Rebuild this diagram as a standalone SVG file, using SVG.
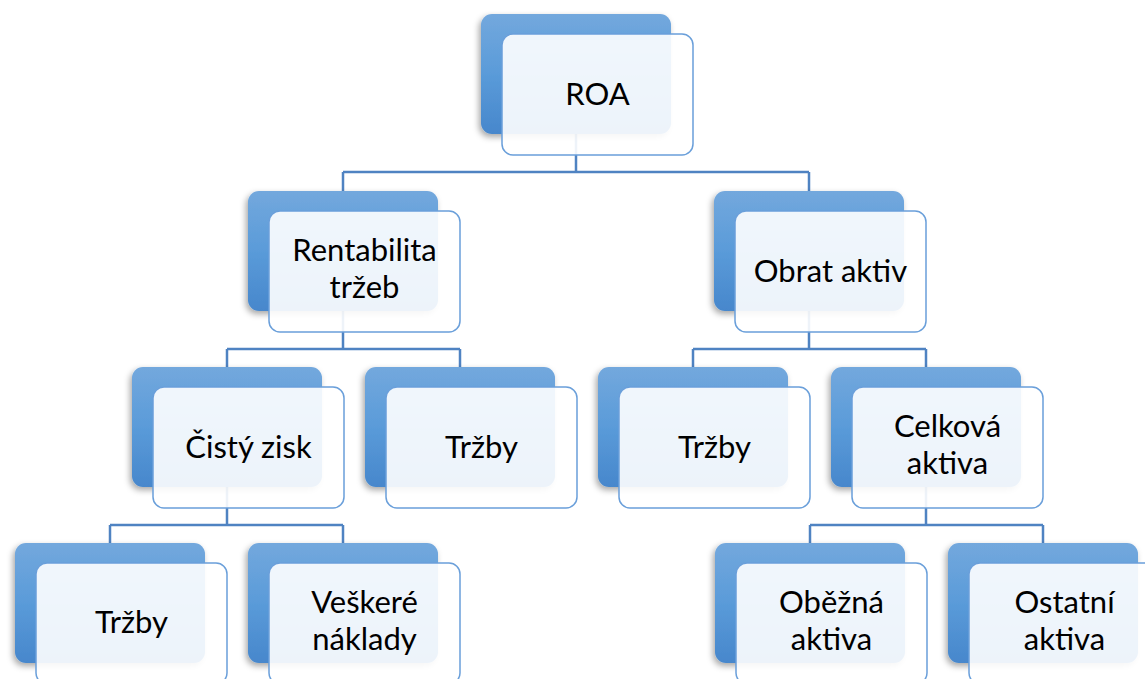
<svg xmlns="http://www.w3.org/2000/svg" width="1145" height="679" viewBox="0 0 1145 679">
<defs>
<linearGradient id="bg" x1="0" y1="0" x2="0" y2="1">
<stop offset="0" stop-color="#73A8DD"/>
<stop offset="0.5" stop-color="#5A9BD9"/>
<stop offset="1" stop-color="#4787CC"/>
</linearGradient>
<filter id="sh" x="-20%" y="-20%" width="140%" height="150%">
<feDropShadow dx="-2" dy="3" stdDeviation="3" flood-color="#000" flood-opacity="0.35"/>
</filter>
</defs>
<style>
.back{fill:url(#bg);filter:url(#sh)}
.front{fill:#FFFFFF;fill-opacity:0.9;stroke:#6A9FDA;stroke-width:1.5}
.conn{fill:none;stroke:#4F83C2;stroke-width:2.5}
text{font-family:Lato,"Liberation Sans",sans-serif;font-size:31px;fill:#000;text-anchor:middle}
</style>
<rect width="1145" height="679" fill="#fff"/>
<g id="connectors" class="conn">
<path d="M576 134V172M343 172H809M343 172V191M809 172V191"/>
<path d="M343 310V349M227 349H460M227 349V367M460 349V367"/>
<path d="M809 310V349M693 349H926M693 349V367M926 349V367"/>
<path d="M227 487V525M110 525H343M110 525V543M343 525V543"/>
<path d="M926 487V525M810 525H1043M810 525V543M1043 525V543"/>
</g>
<g id="roa">
<rect class="back" x="481" y="14" width="190" height="120" rx="11"/>
<rect class="front" x="502" y="34" width="191" height="121" rx="11"/>
<text x="597.5" y="105">ROA</text>
</g>
<g id="rentabilita">
<rect class="back" x="248" y="191" width="190" height="120" rx="11"/>
<rect class="front" x="269" y="211" width="191" height="121" rx="11"/>
<text x="364.5" y="261">Rentabilita</text>
<text x="364.5" y="298">tržeb</text>
</g>
<g id="obrat">
<rect class="back" x="714" y="191" width="190" height="120" rx="11"/>
<rect class="front" x="735" y="211" width="191" height="121" rx="11"/>
<text x="830.5" y="282">Obrat aktiv</text>
</g>
<g id="cisty-zisk">
<rect class="back" x="132" y="367" width="190" height="120" rx="11"/>
<rect class="front" x="153" y="387" width="191" height="121" rx="11"/>
<text x="248.5" y="458">Čistý zisk</text>
</g>
<g id="trzby1">
<rect class="back" x="365" y="367" width="190" height="120" rx="11"/>
<rect class="front" x="386" y="387" width="191" height="121" rx="11"/>
<text x="481.5" y="458">Tržby</text>
</g>
<g id="trzby2">
<rect class="back" x="598" y="367" width="190" height="120" rx="11"/>
<rect class="front" x="619" y="387" width="191" height="121" rx="11"/>
<text x="714.5" y="458">Tržby</text>
</g>
<g id="celkova">
<rect class="back" x="831" y="367" width="190" height="120" rx="11"/>
<rect class="front" x="852" y="387" width="191" height="121" rx="11"/>
<text x="947.5" y="437">Celková</text>
<text x="947.5" y="474">aktiva</text>
</g>
<g id="trzby3">
<rect class="back" x="15" y="543" width="190" height="120" rx="11"/>
<rect class="front" x="36" y="563" width="191" height="121" rx="11"/>
<text x="131.5" y="633">Tržby</text>
</g>
<g id="veskere">
<rect class="back" x="248" y="543" width="190" height="120" rx="11"/>
<rect class="front" x="269" y="563" width="191" height="121" rx="11"/>
<text x="364.5" y="613">Veškeré</text>
<text x="364.5" y="650">náklady</text>
</g>
<g id="obezna">
<rect class="back" x="715" y="543" width="190" height="120" rx="11"/>
<rect class="front" x="736" y="563" width="191" height="121" rx="11"/>
<text x="831.5" y="613">Oběžná</text>
<text x="831.5" y="650">aktiva</text>
</g>
<g id="ostatni">
<rect class="back" x="948" y="543" width="190" height="120" rx="11"/>
<rect class="front" x="969" y="563" width="191" height="121" rx="11"/>
<text x="1064.5" y="613">Ostatní</text>
<text x="1064.5" y="650">aktiva</text>
</g>
</svg>
